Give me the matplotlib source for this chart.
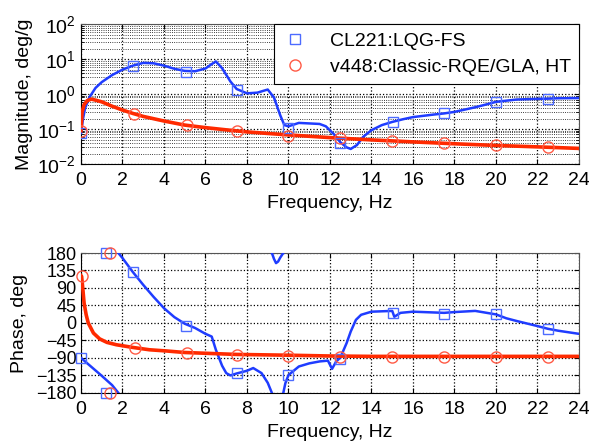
import numpy as np
import matplotlib
matplotlib.use("Agg")
import matplotlib.pyplot as plt
from matplotlib.lines import Line2D
from matplotlib.ticker import LogLocator, NullFormatter

plt.rcParams['font.family'] = ['Liberation Sans', 'DejaVu Sans']
plt.rcParams['mathtext.fontset'] = 'custom'
plt.rcParams['mathtext.rm'] = 'Liberation Sans'

# ---- data ----
labels = ["CL221:LQG-FS", "v448:Classic-RQE/GLA, HT"]

# magnitude, blue (CL221)
fMagB = [0, 0.1, 0.2, 0.4, 0.7, 1.0, 1.5, 2.0, 2.5, 3.0, 3.5, 4.0, 4.5, 5.0,
         5.5, 6.0, 6.3, 6.5, 6.8, 7.2, 7.5, 8.0, 8.5, 9.0, 9.3, 9.6, 9.8,
         10.0, 10.5, 11.0, 11.5, 11.8, 12.2, 12.5, 12.8, 13.0, 13.3, 13.6,
         14.0, 14.5, 15.0, 15.5, 16.0, 17.0, 17.5, 18.0, 19.0, 19.5, 20.0,
         21.0, 22.0, 22.5, 23.0, 24.0]
magB = [0.077, 0.2, 0.4, 0.8, 1.5, 2.2, 3.5, 5.0, 6.5, 7.8, 7.6, 6.5, 5.3,
        4.6, 4.5, 5.4, 7.2, 8.6, 5.5, 2.3, 1.4, 1.05, 1.1, 1.35, 0.8, 0.25,
        0.13, 0.12, 0.15, 0.145, 0.14, 0.12, 0.07, 0.042, 0.03, 0.027,
        0.035, 0.06, 0.093, 0.13, 0.16, 0.19, 0.22, 0.26, 0.28, 0.31, 0.42,
        0.5, 0.6, 0.7, 0.73, 0.74, 0.76, 0.77]

# magnitude, red (v448)
fMagR = [0, 0.05, 0.15, 0.3, 0.5, 0.75, 1.0, 1.5, 2.0, 2.5, 3.0, 4.0, 5.0,
         6.0, 7.0, 8.0, 9.0, 10.0, 12.0, 14.0, 16.0, 18.0, 20.0, 22.0, 24.0]
magR = [0.09, 0.3, 0.5, 0.65, 0.72, 0.66, 0.6, 0.45, 0.35, 0.28, 0.23, 0.17,
        0.13, 0.11, 0.095, 0.083, 0.075, 0.068, 0.057, 0.049, 0.043, 0.038,
        0.034, 0.031, 0.028]

# marker samples, magnitude
fMkMagB = [0, 2.5, 5.05, 7.5, 10, 12.5, 15.05, 17.5, 20, 22.5]
mkMagB = [0.075, 6.3, 4.3, 1.3, 0.11, 0.039, 0.16, 0.28, 0.58, 0.72]
fMkMagR = [0, 2.55, 5.1, 7.5, 10, 12.5, 15, 17.5, 20, 22.5]
mkMagR = [0.09, 0.27, 0.13, 0.087, 0.063, 0.055, 0.046, 0.04, 0.034, 0.031]

# phase, blue (unwrapped, deg)
fPhB = [0, 0.5, 1.0, 1.5, 1.8, 2.0, 2.5, 3.0, 3.5, 4.0, 4.5, 5.0, 5.5, 6.0,
        6.3, 6.5, 6.8, 7.0, 7.2, 7.5, 8.0, 8.3, 8.7, 9.0, 9.2, 9.3, 9.4,
        9.5, 9.6, 9.75, 9.85, 10.0, 10.5, 11.0, 11.5, 11.9, 12.1, 12.3,
        12.5, 12.8, 13.0, 13.25, 13.5, 14.0, 15.0, 15.1, 15.4, 16.0, 17.0,
        17.5, 18.0, 19.0, 20.0, 20.5, 21.0, 22.0, 22.5, 23.0, 24.0]
phB = [-90, -113, -136, -160, -180, -193, -229, -262, -293, -322, -345,
       -362, -373, -388, -395, -429, -470, -489, -495, -490, -483, -476,
       -489, -514, -540, -555, -566, -562, -552, -540, -515, -494, -472,
       -464, -459, -457, -478, -459, -449, -412, -382, -352, -339, -331,
       -329, -344, -334, -331, -333, -334, -332, -329, -338, -348, -355,
       -368, -375, -380, -388]

# phase, red (deg)
fPhR = [0, 0.03, 0.08, 0.15, 0.25, 0.35, 0.6, 0.9, 1.25, 1.7, 2.5, 3.3, 4.1,
        5.0, 6.5, 7.5, 10.0, 12.0, 14.0, 16.0, 20.0, 24.0]
phR = [122, 120, 93, 51, 21, 0, -26, -41, -50, -56, -63, -69, -72, -76, -79,
       -81, -83, -85, -86, -86, -86, -86]

# marker samples, phase
fMkPhB = [0, 1.2, 1.2, 2.5, 5.05, 7.5, 10, 12.5, 15.05, 17.5, 20, 22.5]
mkPhB = [-90, 180, -180, 130, -8, -130, -134, -92, 25, 24, 22, -15]
fMkPhR = [0.05, 1.4, 1.4, 2.6, 5.1, 7.5, 10, 12.5, 15, 17.5, 20, 22.5]
mkPhR = [120, 180, -180, -65, -77, -82, -84, -87, -87, -87, -87, -87]

xticks = list(range(0, 25, 2))
magTicks = [1e-2, 1e-1, 1e0, 1e1, 1e2]
phTicks = [180, 135, 90, 45, 0, -45, -90, -135, -180]

blue = '#1f3cff'
red = '#ff2a00'
blueMk = '#4d6bff'
redMk = '#ff5a45'

fig = plt.figure(figsize=(5.89, 4.47), dpi=100)
axM = fig.add_axes([0.1375, 0.633, 0.8455, 0.313])
axP = fig.add_axes([0.1375, 0.121, 0.8455, 0.313])

# ---- magnitude ----
axM.semilogy(fMagB, magB, color=blue, lw=1.8, zorder=3)
axM.semilogy(fMagR, magR, color=red, lw=2.6, zorder=3)
axM.plot(fMkMagB, mkMagB, ls='none', marker='s', ms=7, mfc='none',
         mec=blueMk, mew=1.0, zorder=4)
axM.plot(fMkMagR, mkMagR, ls='none', marker='o', ms=8, mfc='none',
         mec=redMk, mew=1.0, zorder=4)
axM.set_xlim(0, 24)
axM.set_ylim(1e-2, 1e2)
axM.set_xticks(xticks)
axM.set_yticks(magTicks)
axM.yaxis.set_minor_locator(LogLocator(base=10, subs=np.arange(2, 10), numticks=20))
axM.yaxis.set_minor_formatter(NullFormatter())
axM.set_xlabel("Frequency, Hz", fontsize=14)
axM.set_ylabel("Magnitude, deg/g", fontsize=14)

# ---- phase (wrapped to +/-180 by drawing shifted copies) ----
for shift in (-360, 0, 360, 720):
    axP.plot(fPhB, np.array(phB) + shift, color=blue, lw=1.8, zorder=3)
axP.plot(fPhR, phR, color=red, lw=2.6, zorder=3)
axP.plot(fMkPhB, mkPhB, ls='none', marker='s', ms=7, mfc='none',
         mec=blueMk, mew=1.0, zorder=4, clip_on=False)
axP.plot(fMkPhR, mkPhR, ls='none', marker='o', ms=8, mfc='none',
         mec=redMk, mew=1.0, zorder=4, clip_on=False)
axP.set_xlim(0, 24)
axP.set_ylim(-180, 180)
axP.set_xticks(xticks)
axP.set_yticks(phTicks)
axP.set_xlabel("Frequency, Hz", fontsize=14)
axP.set_ylabel("Phase, deg", fontsize=14)

for ax in (axM, axP):
    ax.tick_params(which='both', direction='in', top=True, right=True)
    ax.tick_params(axis='x', labelsize=14, pad=6)
    for s in ('top', 'right'):
        ax.spines[s].set_color('#555555')

# dotted grids drawn after the tick setup
axM.grid(True, which='major', color='k', linestyle=':', linewidth=0.9)
axM.grid(True, which='minor', axis='y', color='k', linestyle=':', linewidth=0.6)
axP.grid(True, which='major', color='k', linestyle=':', linewidth=0.9)

# legend shows markers only
handles = [Line2D([], [], ls='none', marker='s', ms=7, mfc='none', mec=blueMk),
           Line2D([], [], ls='none', marker='o', ms=8, mfc='none', mec=redMk)]
leg = axM.legend(handles, labels, loc='upper right', bbox_to_anchor=(1, 1),
                 borderaxespad=0, fontsize=14, fancybox=False, framealpha=1,
                 edgecolor='k', handlelength=1.4, handletextpad=1.1,
                 borderpad=0.4, labelspacing=0.45)
leg.get_frame().set_linewidth(0.8)
leg.set_zorder(10)

axM.tick_params(axis='y', labelsize=14)
axP.tick_params(axis='y', labelsize=13, pad=3)
axM.yaxis.set_label_coords(-0.096, 0.5)
axP.yaxis.set_label_coords(-0.106, 0.5)

fig.savefig("out.png", dpi=100)
